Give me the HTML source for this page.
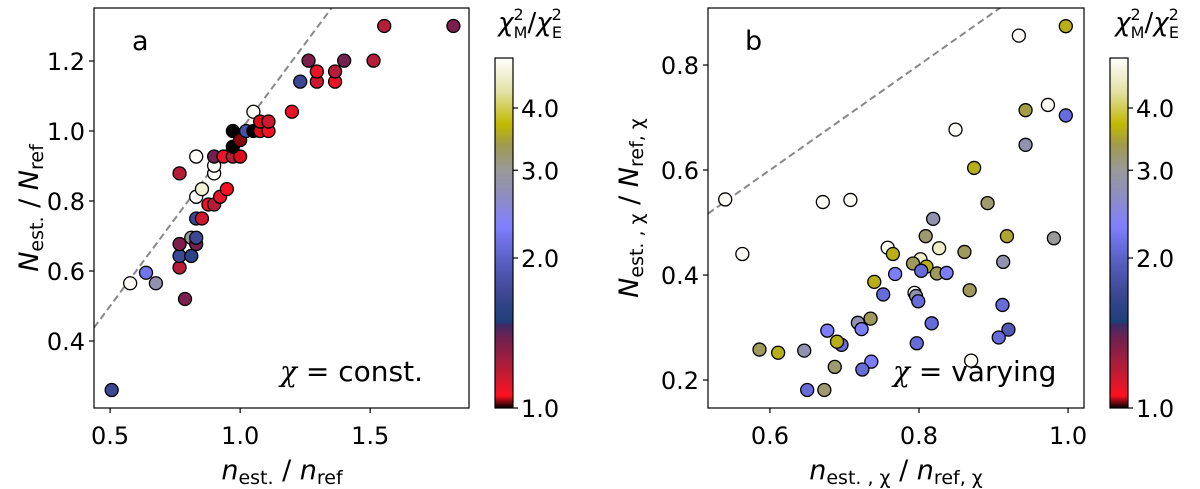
<!DOCTYPE html>
<html><head><meta charset="utf-8"><style>
html,body{margin:0;padding:0;background:#fff;width:1200px;height:489px;overflow:hidden}
svg text{font-family:"DejaVu Sans","Liberation Sans",sans-serif;fill:#000}
</style></head><body>
<svg id="fig" width="1200" height="489" viewBox="0 0 1200 489" xmlns="http://www.w3.org/2000/svg">
<defs>
<linearGradient id="cmap" x1="0" y1="1" x2="0" y2="0">
<stop offset="0" stop-color="#000"/><stop offset="0.035" stop-color="#ff1020"/><stop offset="0.1" stop-color="#c01c34"/><stop offset="0.2" stop-color="#702050"/><stop offset="0.24" stop-color="#3a2c68"/><stop offset="0.245" stop-color="#1d3f78"/><stop offset="0.33" stop-color="#3e4894"/><stop offset="0.43" stop-color="#5a62c8"/><stop offset="0.52" stop-color="#8080ff"/><stop offset="0.62" stop-color="#9090b8"/><stop offset="0.68" stop-color="#999999"/><stop offset="0.75" stop-color="#a09a50"/><stop offset="0.81" stop-color="#c2b800"/><stop offset="0.9" stop-color="#e2e0a0"/><stop offset="1" stop-color="#ffffff"/>
</linearGradient>
</defs>
<g id="pa"></g>
<g id="pb"></g>
</svg>
<script>
// Panel a data
const aX = [0.506,0.577,0.638,0.676,0.788,0.767,0.767,0.767,0.812,0.812,0.831,0.831,0.767,0.831,0.831,0.853,0.831,0.853,0.878,0.9,0.923,0.949,0.9,0.9,0.9,0.936,0.972,1.0,0.972,0.972,1.0,1.023,1.051,1.051,1.077,1.077,1.109,1.109,1.199,1.231,1.263,1.295,1.295,1.365,1.365,1.4,1.513,1.554,1.82];
const aY = [0.26,0.565,0.595,0.565,0.52,0.61,0.643,0.677,0.643,0.695,0.677,0.695,0.879,0.927,0.75,0.75,0.812,0.834,0.79,0.79,0.812,0.834,0.879,0.901,0.927,0.927,0.927,0.927,0.955,1.0,0.974,1.0,1.0,1.055,1.0,1.027,1.0,1.027,1.055,1.141,1.201,1.141,1.17,1.141,1.17,1.201,1.201,1.3,1.3];
const aC = [1.7,5,2.2,2.8,1.35,1.2,1.7,1.35,1.6,3.0,1.38,1.7,1.2,5,1.7,1.15,5,4.7,1.08,1.2,1.1,1.08,5,5,1.38,1.1,1.2,1.05,1.0,1.0,1.03,1.8,1.0,5,1.05,1.05,1.08,1.15,1.1,1.7,1.35,1.15,1.1,1.1,1.2,1.38,1.2,1.2,1.35];
const aXTicks = [0.5,1.0,1.5];
const aYTicks = [0.4,0.6,0.8,1.0,1.2];
// Panel b data
const bX = [0.54,0.563,0.671,0.708,0.849,0.934,0.997,0.973,0.997,0.943,0.943,0.874,0.892,0.819,0.809,0.918,0.981,0.758,0.765,0.827,0.861,0.802,0.792,0.81,0.803,0.768,0.824,0.837,0.913,0.74,0.868,0.752,0.794,0.796,0.799,0.912,0.735,0.718,0.723,0.817,0.677,0.92,0.907,0.696,0.69,0.797,0.586,0.611,0.646,0.687,0.736,0.724,0.65,0.673,0.87];
const bY = [0.544,0.44,0.539,0.543,0.677,0.856,0.874,0.724,0.704,0.714,0.648,0.604,0.537,0.507,0.474,0.474,0.47,0.452,0.44,0.451,0.444,0.43,0.422,0.416,0.408,0.402,0.403,0.404,0.425,0.387,0.371,0.363,0.366,0.36,0.35,0.343,0.317,0.309,0.297,0.308,0.294,0.296,0.281,0.267,0.273,0.27,0.258,0.252,0.256,0.225,0.235,0.22,0.181,0.181,0.237];
const bC = [5,5,5,5,5,5,3.6,5,2.1,3.4,2.8,3.6,3.2,2.8,3.2,3.5,3.0,5,3.6,4.6,3.3,4.6,3.3,3.6,2.1,2.3,3.3,2.3,2.8,3.6,3.3,2.1,5,2.8,2.1,2.1,3.3,2.8,2.3,2.1,2.3,1.9,2.1,2.1,3.6,2.1,3.3,3.6,2.8,3.2,2.3,2.1,2.1,3.2,5];
const bXTicks = [0.6,0.8,1.0];
const bYTicks = [0.2,0.4,0.6,0.8];
const cTicks = [1.0,2.0,3.0,4.0];

const NS='http://www.w3.org/2000/svg';
function mk(p,tag,at){const e=document.createElementNS(NS,tag);for(const k in at)e.setAttribute(k,at[k]);p.appendChild(e);return e;}
const stops=[[0,[0,0,0]],[0.035,[255,16,32]],[0.1,[192,28,52]],[0.2,[112,32,80]],[0.24,[58,44,104]],[0.245,[29,63,120]],[0.33,[62,72,148]],[0.43,[90,98,200]],[0.52,[128,128,255]],[0.62,[144,144,184]],[0.68,[153,153,153]],[0.75,[160,154,80]],[0.81,[194,184,0]],[0.9,[226,224,160]],[1,[255,255,255]]];
const CMAX=5.04;
function cfrac(v){return Math.max(0,Math.min(1,Math.log(v)/Math.log(CMAX)));}
function cmap(v){const f=cfrac(v);for(let i=1;i<stops.length;i++){if(f<=stops[i][0]){const a=stops[i-1],b=stops[i];const t=(f-a[0])/(b[0]-a[0]||1);const c=a[1].map((x,j)=>Math.round(x+(b[1][j]-x)*t));return `rgb(${c})`;}}return '#fff';}

function panel(g,cfg){
  const sx=v=>cfg.x0+(v-cfg.xmin)/(cfg.xmax-cfg.xmin)*(cfg.x1-cfg.x0);
  const sy=v=>cfg.y1-(v-cfg.ymin)/(cfg.ymax-cfg.ymin)*(cfg.y1-cfg.y0);
  const clip=mk(g,'clipPath',{id:cfg.id+'clip'});mk(clip,'rect',{x:cfg.x0,y:cfg.y0,width:cfg.x1-cfg.x0,height:cfg.y1-cfg.y0});
  const dl=mk(g,'line',{x1:sx(cfg.xmin),y1:sy(cfg.xmin),x2:sx(cfg.xmax),y2:sy(cfg.xmax),stroke:'#888','stroke-width':2,'stroke-dasharray':'7,4','clip-path':`url(#${cfg.id}clip)`});
  
  
  cfg.X.forEach((x,i)=>{
    const c=mk(g,'circle',{cx:sx(x),cy:sy(cfg.Y[i]),r:6.5,fill:cmap(cfg.C[i]),stroke:'#000','stroke-width':1.3});
    
    
  });
  const fr=mk(g,'rect',{x:cfg.x0,y:cfg.y0,width:cfg.x1-cfg.x0,height:cfg.y1-cfg.y0,fill:'none',stroke:'#000','stroke-width':1.2});
  
  
  cfg.xt.forEach(v=>{
    mk(g,'line',{x1:sx(v),x2:sx(v),y1:cfg.y1,y2:cfg.y1+5,stroke:'#000','stroke-width':1.2});
    const t=mk(g,'text',{x:sx(v),y:cfg.y1+36,'font-size':24,'text-anchor':'middle'});t.textContent=v.toFixed(1);
    
    
  });
  cfg.yt.forEach(v=>{
    mk(g,'line',{x1:cfg.x0-5,x2:cfg.x0,y1:sy(v),y2:sy(v),stroke:'#000','stroke-width':1.2});
    const t=mk(g,'text',{x:cfg.x0-9,y:sy(v)+9,'font-size':24,'text-anchor':'end'});t.textContent=v.toFixed(1);
    
    
  });
  const cb=mk(g,'rect',{x:cfg.cb,y:58,width:18,height:350,fill:'url(#cmap)',stroke:'#000','stroke-width':1.2});
  
  
  cTicks.forEach(v=>{
    const y=408-cfrac(v)*350;
    mk(g,'line',{x1:cfg.cb+18,x2:cfg.cb+23,y1:y,y2:y,stroke:'#000','stroke-width':1.2});
    const t=mk(g,'text',{x:cfg.cb+26,y:y+9,'font-size':24});t.textContent=v.toFixed(1);
    
    
  });
}
const pa=document.getElementById('pa'),pb=document.getElementById('pb');
panel(pa,{id:'a',x0:94,x1:469,y0:8,y1:408,xmin:0.438,xmax:1.880,ymin:0.2086,ymax:1.3514,X:aX,Y:aY,C:aC,xt:aXTicks,yt:aYTicks,cb:495});
panel(pb,{id:'b',x0:708,x1:1084,y0:8,y1:408,xmin:0.5169,xmax:1.0214,ymin:0.1467,ymax:0.9086,X:bX,Y:bY,C:bC,xt:bXTicks,yt:bYTicks,cb:1110});
</script>
<svg width="1200" height="489" style="position:absolute;left:0;top:0" xmlns="http://www.w3.org/2000/svg">
<text x="132" y="50" font-size="27">a</text>
<text x="745" y="50" font-size="27">b</text>
<text x="280" y="381" font-size="28"><tspan font-style="italic" font-family="DejaVu Serif,serif">χ</tspan> = const.</text>
<text x="893" y="381" font-size="28"><tspan font-style="italic" font-family="DejaVu Serif,serif">χ</tspan> = varying</text>
<text x="282" y="479" font-size="27" text-anchor="middle"><tspan font-style="italic">n</tspan><tspan font-size="19" dy="5">est.</tspan><tspan dy="-5"> / </tspan><tspan font-style="italic">n</tspan><tspan font-size="19" dy="5">ref</tspan></text>
<text x="896" y="479" font-size="27" text-anchor="middle"><tspan font-style="italic">n</tspan><tspan font-size="19" dy="5">est. , χ</tspan><tspan dy="-5"> / </tspan><tspan font-style="italic">n</tspan><tspan font-size="19" dy="5">ref, χ</tspan></text>
<text transform="translate(38,208) rotate(-90)" font-size="27" text-anchor="middle"><tspan font-style="italic">N</tspan><tspan font-size="19" dy="5">est.</tspan><tspan dy="-5"> / </tspan><tspan font-style="italic">N</tspan><tspan font-size="19" dy="5">ref</tspan></text>
<text transform="translate(638,208) rotate(-90)" font-size="27" text-anchor="middle"><tspan font-style="italic">N</tspan><tspan font-size="19" dy="5">est. , χ</tspan><tspan dy="-5"> / </tspan><tspan font-style="italic">N</tspan><tspan font-size="19" dy="5">ref, χ</tspan></text>
<text x="530" y="31" font-size="26" text-anchor="middle"><tspan font-style="italic">χ</tspan><tspan font-size="16" dy="-11">2</tspan><tspan font-size="16" dx="-10" dy="18">M</tspan><tspan dy="-7">/</tspan><tspan font-style="italic">χ</tspan><tspan font-size="16" dy="-11">2</tspan><tspan font-size="16" dx="-10" dy="18">E</tspan></text>
<text x="1147" y="31" font-size="26" text-anchor="middle"><tspan font-style="italic">χ</tspan><tspan font-size="16" dy="-11">2</tspan><tspan font-size="16" dx="-10" dy="18">M</tspan><tspan dy="-7">/</tspan><tspan font-style="italic">χ</tspan><tspan font-size="16" dy="-11">2</tspan><tspan font-size="16" dx="-10" dy="18">E</tspan></text>
</svg>
</body></html>
